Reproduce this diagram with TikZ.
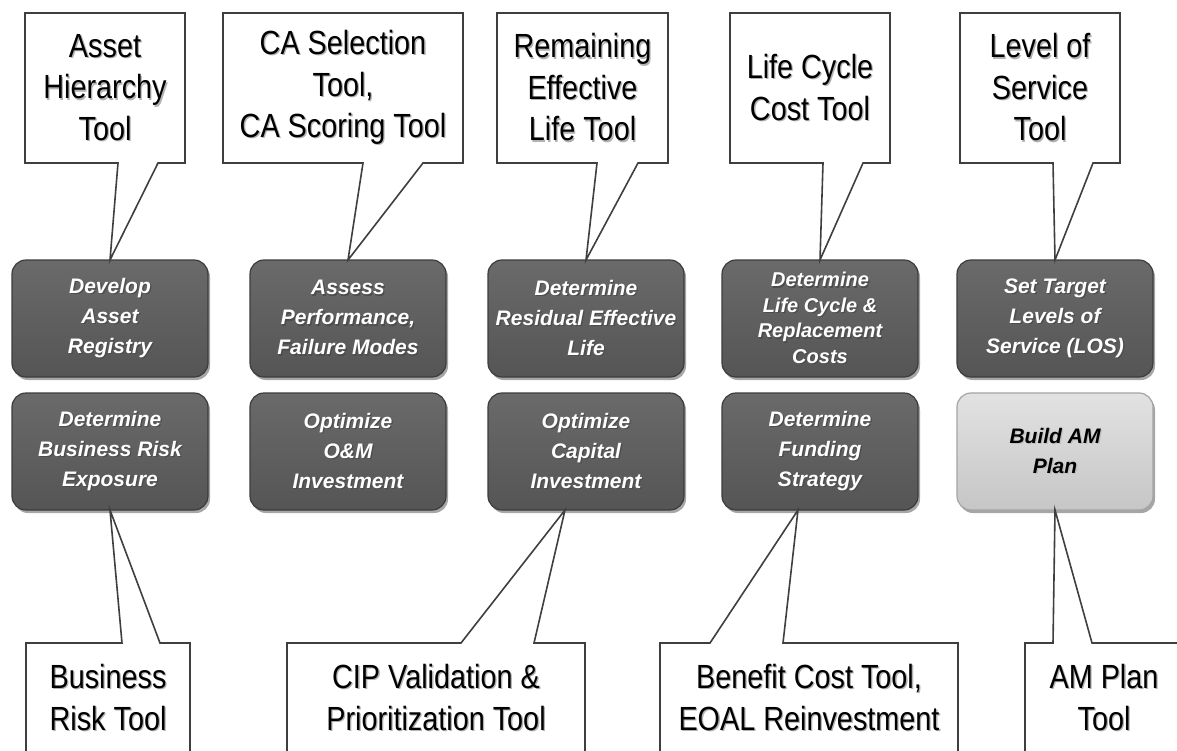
\documentclass[tikz,border=0pt]{standalone}
\usepackage{fontspec}
\setmainfont{Liberation Sans}
\newfontfamily\callfont{Liberation Sans}[FakeStretch=0.86]
\usetikzlibrary{shadows,calc}
\definecolor{boxtop}{HTML}{6A6A6A}
\definecolor{boxbot}{HTML}{555555}
\definecolor{boxedge}{HTML}{3C3C3C}
\definecolor{lighttop}{HTML}{E2E2E2}
\definecolor{lightbot}{HTML}{C6C6C6}
\definecolor{lightedge}{HTML}{A4A4A4}
\definecolor{cedge}{HTML}{3F3F3F}
\newcommand\shw[2]{\leavevmode\rlap{\hspace{1.3pt}\raisebox{-1.3pt}{\color{#1}#2}}#2}
\newcommand\cl[1]{\shw{black!30}{#1}}
\newcommand\pl[1]{\shw{black!70}{#1}}
\begin{document}
\begin{tikzpicture}[x=1pt,y=-1pt,
  pbox/.style={rounded corners=14pt, minimum width=196pt, minimum height=117pt,
    draw=boxedge, line width=1.2pt, top color=boxtop, bottom color=boxbot,
    text=white, font=\fontsize{21}{30}\selectfont\bfseries\itshape,
    align=center, inner sep=0pt, outer sep=0pt,
    drop shadow={shadow xshift=2pt, shadow yshift=-3pt, opacity=0.35, fill=black}},
  lbox/.style={pbox, draw=lightedge, top color=lighttop, bottom color=lightbot, text=black},
  ctext/.style={minimum height=150pt, inner sep=0pt, outer sep=0pt, align=center,
    font=\callfont\fontsize{33.5}{41.5}\selectfont},
  btext/.style={ctext, minimum height=110pt},
  cline/.style={draw=cedge, line width=1.6pt, line join=miter}
]
\useasboundingbox (0,0) rectangle (1177,750);
\fill[white] (0,0) rectangle (1177,750);
\clip (0,0) rectangle (1177,750);

% process boxes
\node[pbox] (r1a) at (110,318.5) {\pl{Develop}\\\pl{Asset}\\\pl{Registry}};
\node[pbox] (r1b) at (348,318.5) {\pl{Assess}\\\pl{Performance,}\\\pl{Failure Modes}};
\node[pbox] (r1c) at (586,318.5) {\pl{Determine}\\\pl{Residual Effective}\\\pl{Life}};
\node[pbox, font=\fontsize{20}{25.5}\selectfont\bfseries\itshape] (r1d) at (820,318.5) {\pl{Determine}\\\pl{Life Cycle \&}\\\pl{Replacement}\\\pl{Costs}};
\node[pbox] (r1e) at (1055,318.5) {\pl{Set Target}\\\pl{Levels of}\\\pl{Service (LOS)}};

\node[pbox] (r2a) at (110,451.5) {\pl{Determine}\\\pl{Business Risk}\\\pl{Exposure}};
\node[pbox] (r2b) at (348,451.5) {\pl{Optimize}\\\pl{O\&M}\\\pl{Investment}};
\node[pbox] (r2c) at (586,451.5) {\pl{Optimize}\\\pl{Capital}\\\pl{Investment}};
\node[pbox] (r2d) at (820,451.5) {\pl{Determine}\\\pl{Funding}\\\pl{Strategy}};
\node[lbox] (r2e) at (1055,451.5) {\shw{black!25}{Build AM}\\\shw{black!25}{Plan}};

% top callouts
\node[ctext, minimum width=160pt] (t1) at (105,88) {\cl{Asset}\\\cl{Hierarchy}\\\cl{Tool}};
\node[ctext, minimum width=240pt] (t2) at (343,88) {\cl{CA Selection}\\\cl{Tool,}\\\cl{CA Scoring Tool}};
\node[ctext, minimum width=171pt] (t3) at (582.5,88) {\cl{Remaining}\\\cl{Effective}\\\cl{Life Tool}};
\node[ctext, minimum width=160pt] (t4) at (810,88) {\cl{Life Cycle}\\\cl{Cost Tool}};
\node[ctext, minimum width=160pt] (t5) at (1040,88) {\cl{Level of}\\\cl{Service}\\\cl{Tool}};

\draw[cline] (t1.north west) -- (t1.north east) -- (t1.south east) -- (158,163) -- (r1a.north) -- (118,163) -- (t1.south west) -- cycle;
\draw[cline] (t2.north west) -- (t2.north east) -- (t2.south east) -- (423,163) -- (r1b.north) -- (363,163) -- (t2.south west) -- cycle;
\draw[cline] (t3.north west) -- (t3.north east) -- (t3.south east) -- (638,163) -- (r1c.north) -- (597,163) -- (t3.south west) -- cycle;
\draw[cline] (t4.north west) -- (t4.north east) -- (t4.south east) -- (863,163) -- (r1d.north) -- (823,163) -- (t4.south west) -- cycle;
\draw[cline] (t5.north west) -- (t5.north east) -- (t5.south east) -- (1093,163) -- (r1e.north) -- (1053,163) -- (t5.south west) -- cycle;

% bottom callouts
\node[btext, minimum width=164pt] (s1) at (108,698) {\cl{Business}\\\cl{Risk Tool}};
\node[btext, minimum width=298pt] (s2) at (436,698) {\cl{CIP Validation \&}\\\cl{Prioritization Tool}};
\node[btext, minimum width=298pt] (s3) at (809,698) {\cl{Benefit Cost Tool,}\\\cl{EOAL Reinvestment}};
\node[btext, minimum width=158pt] (s4) at (1104,698) {\cl{AM Plan}\\\cl{Tool}};

\coordinate (p2) at ($(r2c.south)+(-21,0)$);
\coordinate (p3) at ($(r2d.south)+(-22,0)$);

\draw[cline] (s1.south west) -- (s1.north west) -- (122,643) -- (r2a.south) -- (160,643) -- (s1.north east) -- (s1.south east);
\draw[cline] (s2.south west) -- (s2.north west) -- (461,643) -- (p2) -- (534,643) -- (s2.north east) -- (s2.south east);
\draw[cline] (s3.south west) -- (s3.north west) -- (710,643) -- (p3) -- (783,643) -- (s3.north east) -- (s3.south east);
\draw[cline] (s4.south west) -- (s4.north west) -- (1053,643) -- (r2e.south) -- (1092,643) -- (s4.north east) -- (s4.south east);
\end{tikzpicture}
\end{document}
